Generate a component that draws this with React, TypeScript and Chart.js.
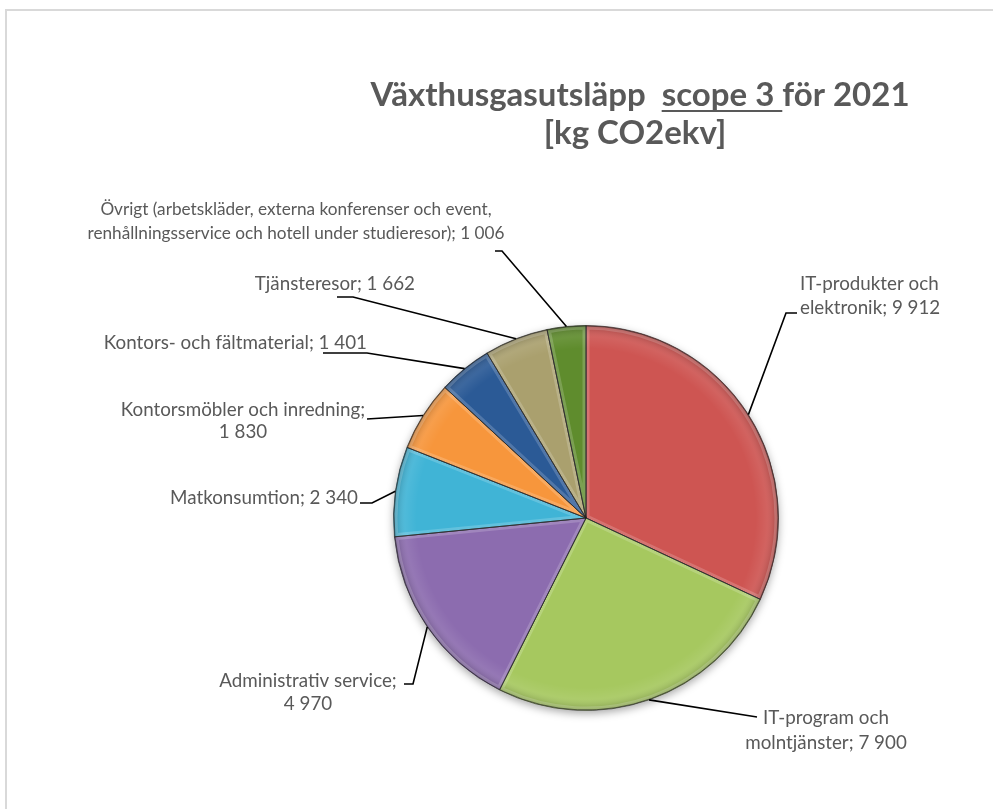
import React, { useEffect, useRef } from 'react';
import { Chart, registerables } from 'chart.js';

Chart.register(...registerables);

// ---- data ----
const categories = [
  'IT-produkter och elektronik',
  'IT-program och molntjänster',
  'Administrativ service',
  'Matkonsumtion',
  'Kontorsmöbler och inredning',
  'Kontors- och fältmaterial',
  'Tjänsteresor',
  'Övrigt (arbetskläder, externa konferenser och event, renhållningsservice och hotell under studieresor)',
];
const values = [9912, 7900, 4970, 2340, 1830, 1401, 1662, 1006];
const titlePre = 'Växthusgasutsläpp  ';
const titleUnderlined = 'scope 3 ';
const titlePost = 'för 2021';
const titleLine2 = '[kg CO2ekv]';

// ---- styles ----
const colors = ['#CE5552', '#A6C85F', '#8C6CAF', '#40B4D6', '#F7963C', '#2B5A96', '#AAA06E', '#5F8C2D'];
const TEXT = '#595959';
const LABEL_FAMILY = 'Lato';
const TITLE_FONT = 'bold 33px Lato';

// label layout: text anchor (first line centre), alignment, word-break, leader elbows (label side last)
const labelLayout = [
  { x: 800, y: 284, align: 'left', brk: 2, lh: 24, fs: 18.8, path: [[786, 313], [797, 313]] },
  { x: 826, y: 718, align: 'center', brk: 2, lh: 25, fs: 18.8, path: [[757, 717]] },
  { x: 308, y: 681, align: 'center', brk: 2, lh: 23, fs: 18.8, path: [[413, 684], [404, 684]] },
  { x: 358, y: 498, align: 'right', brk: 99, lh: 24, fs: 18.8, path: [[372, 503], [360, 503]] },
  { x: 243, y: 410, align: 'center', brk: 3, lh: 22, fs: 18.8, path: [[367, 419]] },
  { x: 367, y: 343, align: 'right', brk: 99, lh: 24, fs: 18.8, path: [[367, 353], [323, 353]] },
  { x: 415, y: 284, align: 'right', brk: 99, lh: 24, fs: 18.8, path: [[353, 297], [337, 297]] },
  { x: 296, y: 209, align: 'center', brk: 6, lh: 24, fs: 17.2, path: [[502, 251], [495, 251]] },
];

function fmt(v: number): string {
  const s = String(v);
  return s.length > 3 ? s.slice(0, s.length - 3) + ' ' + s.slice(s.length - 3) : s;
}

function labelLines(i: number): string[] {
  const words = categories[i].split(' ');
  const brk = labelLayout[i].brk;
  if (brk > words.length) return [categories[i] + '; ' + fmt(values[i])];
  if (brk === words.length) return [categories[i] + ';', fmt(values[i])];
  return [words.slice(0, brk).join(' '), words.slice(brk).join(' ') + '; ' + fmt(values[i])];
}

const framePlugin = {
  id: 'frame',
  beforeDraw(chart: any) {
    const ctx = chart.ctx;
    ctx.save();
    ctx.fillStyle = '#ffffff';
    ctx.fillRect(0, 0, chart.width, chart.height);
    ctx.fillStyle = '#D9D9D9';
    ctx.fillRect(5, 9, chart.width, 2);
    ctx.fillRect(5, 9, 2, chart.height);
    ctx.restore();
  },
  beforeDatasetsDraw(chart: any) {
    const arc = chart.getDatasetMeta(0).data[0];
    if (!arc) return;
    const { x, y, outerRadius } = arc.getProps(['x', 'y', 'outerRadius'], true);
    const ctx = chart.ctx;
    ctx.save();
    ctx.shadowColor = 'rgba(0,0,0,0.35)';
    ctx.shadowBlur = 8;
    ctx.shadowOffsetY = 3;
    ctx.beginPath();
    ctx.arc(x, y, outerRadius, 0, Math.PI * 2);
    ctx.fillStyle = '#888';
    ctx.fill();
    ctx.restore();
  },
};

const bevelPlugin = {
  id: 'bevel',
  afterDatasetsDraw(chart: any) {
    const ctx = chart.ctx;
    const meta = chart.getDatasetMeta(0);
    ctx.save();
    meta.data.forEach((arc: any) => {
      const { x, y, startAngle, endAngle, outerRadius } = arc.getProps(
        ['x', 'y', 'startAngle', 'endAngle', 'outerRadius'], true);
      const path = () => {
        ctx.beginPath();
        ctx.moveTo(x, y);
        ctx.arc(x, y, outerRadius - 0.5, startAngle, endAngle);
        ctx.closePath();
      };
      const g = ctx.createRadialGradient(x, y, 0, x, y, outerRadius);
      g.addColorStop(0, 'rgba(255,255,255,0)');
      g.addColorStop(0.88, 'rgba(255,255,255,0)');
      g.addColorStop(0.94, 'rgba(255,255,255,0.08)');
      g.addColorStop(1, 'rgba(0,0,0,0.22)');
      path();
      ctx.fillStyle = g;
      ctx.fill();
      // inner light bevel
      ctx.save();
      path();
      ctx.clip();
      path();
      ctx.lineJoin = 'round';
      ctx.lineWidth = 7;
      ctx.strokeStyle = 'rgba(255,255,255,0.18)';
      ctx.stroke();
      ctx.restore();
      path();
      ctx.lineWidth = 1;
      ctx.strokeStyle = 'rgba(30,30,30,0.55)';
      ctx.stroke();
    });
    ctx.restore();
  },
};

const labelPlugin = {
  id: 'leaderLabels',
  afterDraw(chart: any) {
    const ctx = chart.ctx;
    const meta = chart.getDatasetMeta(0);
    ctx.save();
    meta.data.forEach((arc: any, i: number) => {
      const { x, y, startAngle, endAngle, outerRadius } = arc.getProps(
        ['x', 'y', 'startAngle', 'endAngle', 'outerRadius'], true);
      const mid = (startAngle + endAngle) / 2;
      const px = x + Math.cos(mid) * outerRadius;
      const py = y + Math.sin(mid) * outerRadius;
      const L = labelLayout[i];
      ctx.beginPath();
      ctx.moveTo(px, py);
      L.path.forEach((p) => ctx.lineTo(p[0], p[1]));
      ctx.strokeStyle = '#000000';
      ctx.lineWidth = 1.6;
      ctx.stroke();

      ctx.font = `${L.fs}px ${LABEL_FAMILY}`;
      ctx.fillStyle = TEXT;
      ctx.textAlign = L.align as CanvasTextAlign;
      ctx.textBaseline = 'middle';
      labelLines(i).forEach((line, k) => ctx.fillText(line, L.x, L.y + k * L.lh));
    });

    // title
    ctx.font = TITLE_FONT;
    ctx.fillStyle = TEXT;
    ctx.textBaseline = 'alphabetic';
    ctx.textAlign = 'left';
    const cx = 640;
    const w1 = ctx.measureText(titlePre).width;
    const w2 = ctx.measureText(titleUnderlined).width;
    const w3 = ctx.measureText(titlePost).width;
    const tx = cx - (w1 + w2 + w3) / 2;
    const ty = 106;
    ctx.fillText(titlePre, tx, ty);
    ctx.fillText(titleUnderlined, tx + w1, ty);
    ctx.fillRect(tx + w1, ty + 4, w2, 2);
    ctx.fillText(titlePost, tx + w1 + w2, ty);
    ctx.textAlign = 'center';
    ctx.fillText(titleLine2, 635, 144);
    ctx.restore();
  },
};

export default function App() {
  const ref = useRef<HTMLCanvasElement | null>(null);
  useEffect(() => {
    if (!ref.current) return;
    const chart = new Chart(ref.current, {
      type: 'pie',
      data: {
        labels: categories,
        datasets: [
          {
            data: values,
            backgroundColor: colors,
            borderColor: 'rgba(40,40,40,0.55)',
            borderWidth: 1,
          },
        ],
      },
      options: {
        responsive: false,
        animation: false,
        devicePixelRatio: 1,
        layout: { padding: { left: 392, right: 213, top: 325, bottom: 98 } },
        plugins: {
          legend: { display: false },
          title: { display: false },
          tooltip: { enabled: false },
        },
      },
      plugins: [framePlugin, bevelPlugin, labelPlugin],
    });
    return () => chart.destroy();
  }, []);
  return (
    <div style={{ position: 'fixed', left: 0, top: 0, width: 993, height: 809, background: '#fff' }}>
      <canvas ref={ref} width={993} height={809} style={{ display: 'block' }} />
    </div>
  );
}
